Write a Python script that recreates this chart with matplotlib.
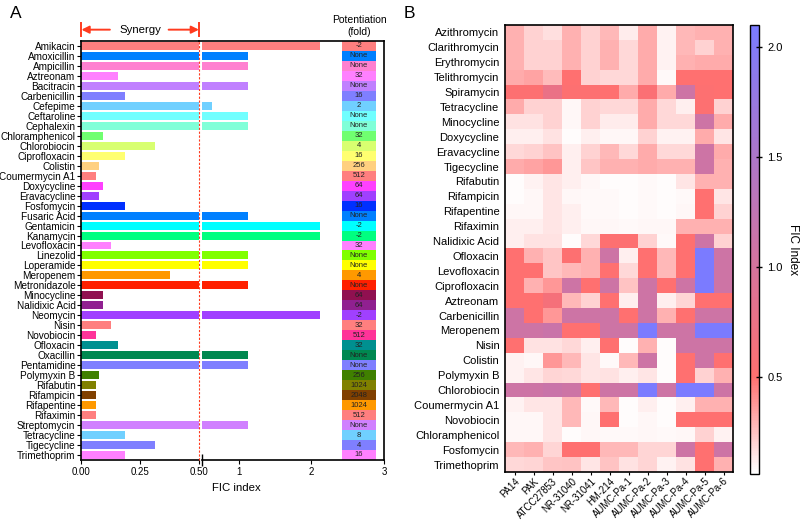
import numpy as np
import matplotlib
matplotlib.use("Agg")
import matplotlib.pyplot as plt
from matplotlib.colors import LinearSegmentedColormap, Normalize

plt.rcParams["font.family"] = ["Liberation Sans", "DejaVu Sans"]

# ---------------- panel A data ----------------
drugs_a = ["Amikacin", "Amoxicillin", "Ampicillin", "Aztreonam", "Bacitracin", "Carbenicillin",
           "Cefepime", "Ceftaroline", "Cephalexin", "Chloramphenicol", "Chlorobiocin",
           "Ciprofloxacin", "Colistin", "Coumermycin A1", "Doxycycline", "Eravacycline",
           "Fosfomycin", "Fusaric Acid", "Gentamicin", "Kanamycin", "Levofloxacin", "Linezolid",
           "Loperamide", "Meropenem", "Metronidazole", "Minocycline", "Nalidixic Acid",
           "Neomycin", "Nisin", "Novobiocin", "Ofloxacin", "Oxacillin", "Pentamidine",
           "Polymyxin B", "Rifabutin", "Rifampicin", "Rifapentine", "Rifaximin",
           "Streptomycin", "Tetracycline", "Tigecycline", "Trimethoprim"]
fic_a = [2.125, 1.125, 1.125, 0.156, 1.125, 0.1875, 0.625, 1.125, 1.125, 0.094, 0.3125,
         0.1875, 0.078, 0.064, 0.094, 0.078, 0.1875, 1.125, 2.125, 2.125, 0.125, 1.125,
         1.125, 0.375, 1.125, 0.094, 0.094, 2.125, 0.125, 0.064, 0.156, 1.125, 1.125,
         0.078, 0.063, 0.063, 0.064, 0.064, 1.125, 0.1875, 0.3125, 0.1875]
potentiation = ["-2", "None", "None", "32", "None", "16", "2", "None", "None", "32", "4",
                "16", "256", "512", "64", "64", "16", "None", "-2", "-2", "32", "None",
                "None", "4", "None", "64", "64", "-2", "32", "512", "32", "None", "None",
                "256", "1024", "2048", "1024", "512", "None", "8", "4", "16"]
bar_colors = ["#FF7F7F", "#0080FF", "#FF80D0", "#FF80FF", "#C080FF", "#7F7FFF",
              "#70D0FF", "#70FFFF", "#80FFD8", "#70FF70", "#D8FF70", "#FFFF70",
              "#FFD080", "#FF7F7F", "#FF40FF", "#A040FF", "#0030FF", "#0080FF",
              "#00FFFF", "#00FF80", "#FF80FF", "#80FF00", "#FFFF00", "#FF9900",
              "#FF2000", "#901050", "#902090", "#A040FF", "#FF7F7F", "#FF3399",
              "#009090", "#008850", "#7F7FFF", "#408000", "#808000", "#804000",
              "#FF9900", "#FF7F7F", "#D080FF", "#70D0FF", "#7F7FFF", "#FF80FF"]

# ---------------- panel B data ----------------
strains = ["PA14", "PAK", "ATCC27853", "NR-31040", "NR-31041", "HM-214",
           "AUMC-Pa-1", "AUMC-Pa-2", "AUMC-Pa-3", "AUMC-Pa-4", "AUMC-Pa-5", "AUMC-Pa-6"]
drugs_b = ["Azithromycin", "Clarithromycin", "Erythromycin", "Telithromycin", "Spiramycin",
           "Tetracycline", "Minocycline", "Doxycycline", "Eravacycline", "Tigecycline",
           "Rifabutin", "Rifampicin", "Rifapentine", "Rifaximin", "Nalidixic Acid",
           "Ofloxacin", "Levofloxacin", "Ciprofloxacin", "Aztreonam", "Carbenicillin",
           "Meropenem", "Nisin", "Colistin", "Polymyxin B", "Chlorobiocin", "Coumermycin A1",
           "Novobiocin", "Chloramphenicol", "Fosfomycin", "Trimethoprim"]
fic_b = [
    [0.30, 0.20, 0.16, 0.30, 0.20, 0.28, 0.12, 0.32, 0.10, 0.28, 0.30, 0.30],
    [0.30, 0.20, 0.20, 0.30, 0.20, 0.30, 0.18, 0.32, 0.10, 0.28, 0.20, 0.30],
    [0.30, 0.20, 0.20, 0.30, 0.20, 0.30, 0.18, 0.32, 0.10, 0.30, 0.32, 0.32],
    [0.32, 0.34, 0.27, 0.50, 0.20, 0.18, 0.18, 0.32, 0.08, 0.50, 0.50, 0.50],
    [0.52, 0.52, 0.75, 0.52, 0.52, 0.50, 0.32, 0.55, 0.32, 1.10, 0.52, 0.50],
    [0.32, 0.20, 0.20, 0.09, 0.20, 0.18, 0.18, 0.32, 0.18, 0.11, 0.52, 0.20],
    [0.15, 0.15, 0.20, 0.09, 0.20, 0.12, 0.12, 0.32, 0.18, 0.18, 1.10, 0.32],
    [0.11, 0.11, 0.15, 0.07, 0.11, 0.09, 0.09, 0.20, 0.10, 0.10, 0.32, 0.14],
    [0.18, 0.20, 0.25, 0.11, 0.20, 0.28, 0.18, 0.32, 0.18, 0.18, 1.10, 0.32],
    [0.32, 0.34, 0.38, 0.11, 0.24, 0.30, 0.30, 0.32, 0.30, 0.30, 1.10, 0.30],
    [0.07, 0.10, 0.14, 0.11, 0.09, 0.07, 0.07, 0.08, 0.07, 0.14, 0.30, 0.30],
    [0.07, 0.09, 0.14, 0.09, 0.08, 0.08, 0.07, 0.08, 0.07, 0.08, 0.50, 0.14],
    [0.09, 0.09, 0.14, 0.11, 0.08, 0.08, 0.07, 0.08, 0.07, 0.09, 0.50, 0.20],
    [0.11, 0.11, 0.14, 0.11, 0.09, 0.09, 0.08, 0.09, 0.09, 0.30, 0.30, 0.30],
    [0.11, 0.15, 0.15, 0.07, 0.18, 0.52, 0.52, 0.20, 0.08, 0.50, 1.10, 0.20],
    [0.50, 0.30, 0.24, 0.52, 0.30, 1.10, 0.11, 0.50, 0.28, 0.50, 2.10, 1.10],
    [0.50, 0.50, 0.24, 0.28, 0.30, 0.50, 0.18, 0.50, 0.28, 0.50, 2.10, 1.10],
    [0.50, 0.30, 0.38, 1.10, 0.50, 1.10, 0.25, 1.10, 0.50, 1.10, 2.10, 1.10],
    [0.50, 0.50, 0.62, 0.28, 0.20, 0.50, 0.11, 1.10, 0.11, 0.19, 0.50, 0.50],
    [1.10, 0.50, 0.38, 1.10, 1.10, 1.10, 0.50, 1.10, 0.30, 0.50, 1.10, 1.10],
    [1.10, 1.10, 1.15, 0.50, 0.50, 1.10, 1.10, 2.10, 1.10, 1.10, 2.10, 2.10],
    [0.50, 0.15, 0.15, 0.18, 0.11, 0.50, 0.07, 0.30, 0.07, 1.10, 1.10, 1.10],
    [0.10, 0.09, 0.38, 0.28, 0.14, 0.08, 0.28, 1.10, 0.07, 0.50, 1.10, 0.50],
    [0.10, 0.14, 0.19, 0.18, 0.14, 0.15, 0.11, 0.14, 0.07, 0.50, 0.20, 0.30],
    [1.10, 1.10, 1.15, 1.10, 0.50, 1.10, 1.10, 2.10, 1.10, 2.10, 2.10, 1.10],
    [0.10, 0.14, 0.14, 0.28, 0.08, 0.28, 0.07, 0.11, 0.07, 0.11, 0.30, 0.30],
    [0.09, 0.09, 0.14, 0.28, 0.09, 0.50, 0.07, 0.09, 0.07, 0.50, 0.50, 0.50],
    [0.09, 0.09, 0.14, 0.07, 0.09, 0.08, 0.08, 0.09, 0.08, 0.09, 0.20, 0.10],
    [0.28, 0.30, 0.19, 0.50, 0.50, 0.28, 0.28, 0.19, 0.19, 1.10, 0.50, 1.10],
    [0.18, 0.19, 0.24, 0.25, 0.14, 0.25, 0.15, 0.19, 0.10, 0.15, 0.50, 0.30],
]

red = "#FF3B1F"
fig = plt.figure(figsize=(8, 5.22), dpi=100)

# ---------------- panel A: broken x axis ----------------
axl = fig.add_axes([0.10125, 0.1188, 0.148, 0.8027])
axr = fig.add_axes([0.2531, 0.1188, 0.2269, 0.8027])
y = np.arange(len(drugs_a))
for ax in (axl, axr):
    ax.barh(y, fic_a, height=0.8, color=bar_colors, zorder=2)
    ax.set_ylim(len(drugs_a) - 0.5, -0.5)
    for s in ax.spines.values():
        s.set_linewidth(1.2)
axl.set_xlim(0, 0.5)
axr.set_xlim(0.5, 3)
axl.spines["right"].set_visible(False)
axr.spines["left"].set_visible(False)
# keep the top frame line unbroken across the gap
axr.spines["top"].set_bounds(0.455, 3)

axl.set_yticks(y)
axl.set_yticklabels(drugs_a, fontsize=7.2)
axl.tick_params(axis="y", length=3, width=0.8, pad=1)
axr.set_yticks([])

axl.set_xticks([0, 0.25, 0.5])
axl.set_xticklabels(["0.00", "0.25", "0.50"], fontsize=7)
axr.set_xticks([1, 2, 3])
axr.set_xticklabels(["1", "2", "3"], fontsize=7)
for ax in (axl, axr):
    ax.tick_params(axis="x", length=3, width=0.8, pad=2)
    ax.set_xticks([0.5], minor=True)
    ax.tick_params(axis="x", which="minor", direction="inout", length=8, width=1.0)

axl.axvline(0.5, color=red, ls="--", lw=0.8, dashes=(2, 1.5), zorder=3, clip_on=False)

# potentiation column
cell_left, cell_w = 2.42, 0.47
axr.barh(y, [cell_w] * len(y), left=cell_left, height=1.0, color=bar_colors, zorder=2)
for i, p in enumerate(potentiation):
    axr.text(cell_left + cell_w / 2, i, p, ha="center", va="center", fontsize=5.5,
             color="#222222", zorder=3)
axr.text(cell_left + cell_w / 2, 1.01, "Potentiation\n(fold)", transform=axr.get_xaxis_transform(),
         ha="center", va="bottom", fontsize=7.5, linespacing=1.25)

# synergy header
tr = axl.get_xaxis_transform()
hy = 1.027
axl.annotate("", xy=(0.002, hy), xytext=(0.122, hy), xycoords=tr, textcoords=tr,
             arrowprops=dict(arrowstyle="-|>", color=red, lw=1.4, mutation_scale=11,
                             shrinkA=0, shrinkB=0))
axl.annotate("", xy=(0.498, hy), xytext=(0.37, hy), xycoords=tr, textcoords=tr,
             arrowprops=dict(arrowstyle="-|>", color=red, lw=1.4, mutation_scale=11,
                             shrinkA=0, shrinkB=0))
for xv in (0, 0.5):
    axl.plot([xv, xv], [hy - 0.016, hy + 0.016], color=red, lw=1.4, transform=tr,
             clip_on=False)
axl.text(0.25, hy, "Synergy", transform=tr, ha="center", va="center", fontsize=8.2)

fig.text(0.296, 0.065, "FIC index", ha="center", va="center", fontsize=8.2)
fig.text(0.012, 0.975, "A", ha="left", va="center", fontsize=12.5)

# ---------------- panel B: heatmap ----------------
vmin, vmax = 0.06, 2.1
p_red = (0.5 - vmin) / (vmax - vmin)
cmap = LinearSegmentedColormap.from_list(
    "fic", [(0, "#FFFFFF"), (p_red, "#FF7070"), (1, "#7B7BFF")])
norm = Normalize(vmin=vmin, vmax=vmax)

axb = fig.add_axes([0.63125, 0.0958, 0.285, 0.8563])
im = axb.imshow(np.array(fic_b), aspect="auto", cmap=cmap, norm=norm,
                interpolation="nearest")
axb.set_yticks(np.arange(len(drugs_b)))
axb.set_yticklabels(drugs_b, fontsize=8)
axb.set_xticks(np.arange(len(strains)))
axb.set_xticklabels(strains, fontsize=6.9, rotation=45, ha="right", rotation_mode="anchor")
axb.tick_params(axis="y", length=0, pad=4)
axb.tick_params(axis="x", length=2, pad=1)
for s in axb.spines.values():
    s.set_linewidth(1.2)

cax = fig.add_axes([0.9375, 0.092, 0.01125, 0.860])
cb = fig.colorbar(im, cax=cax)
cb.set_ticks([0.5, 1.0, 1.5, 2.0])
cb.ax.tick_params(labelsize=8, direction="inout", length=5, width=1.0)
cb.outline.set_linewidth(1.0)
cb.set_label("FIC Index", rotation=270, fontsize=8.5, labelpad=12)
fig.text(0.505, 0.975, "B", ha="left", va="center", fontsize=12.5)

fig.savefig("out.png", dpi=100)
